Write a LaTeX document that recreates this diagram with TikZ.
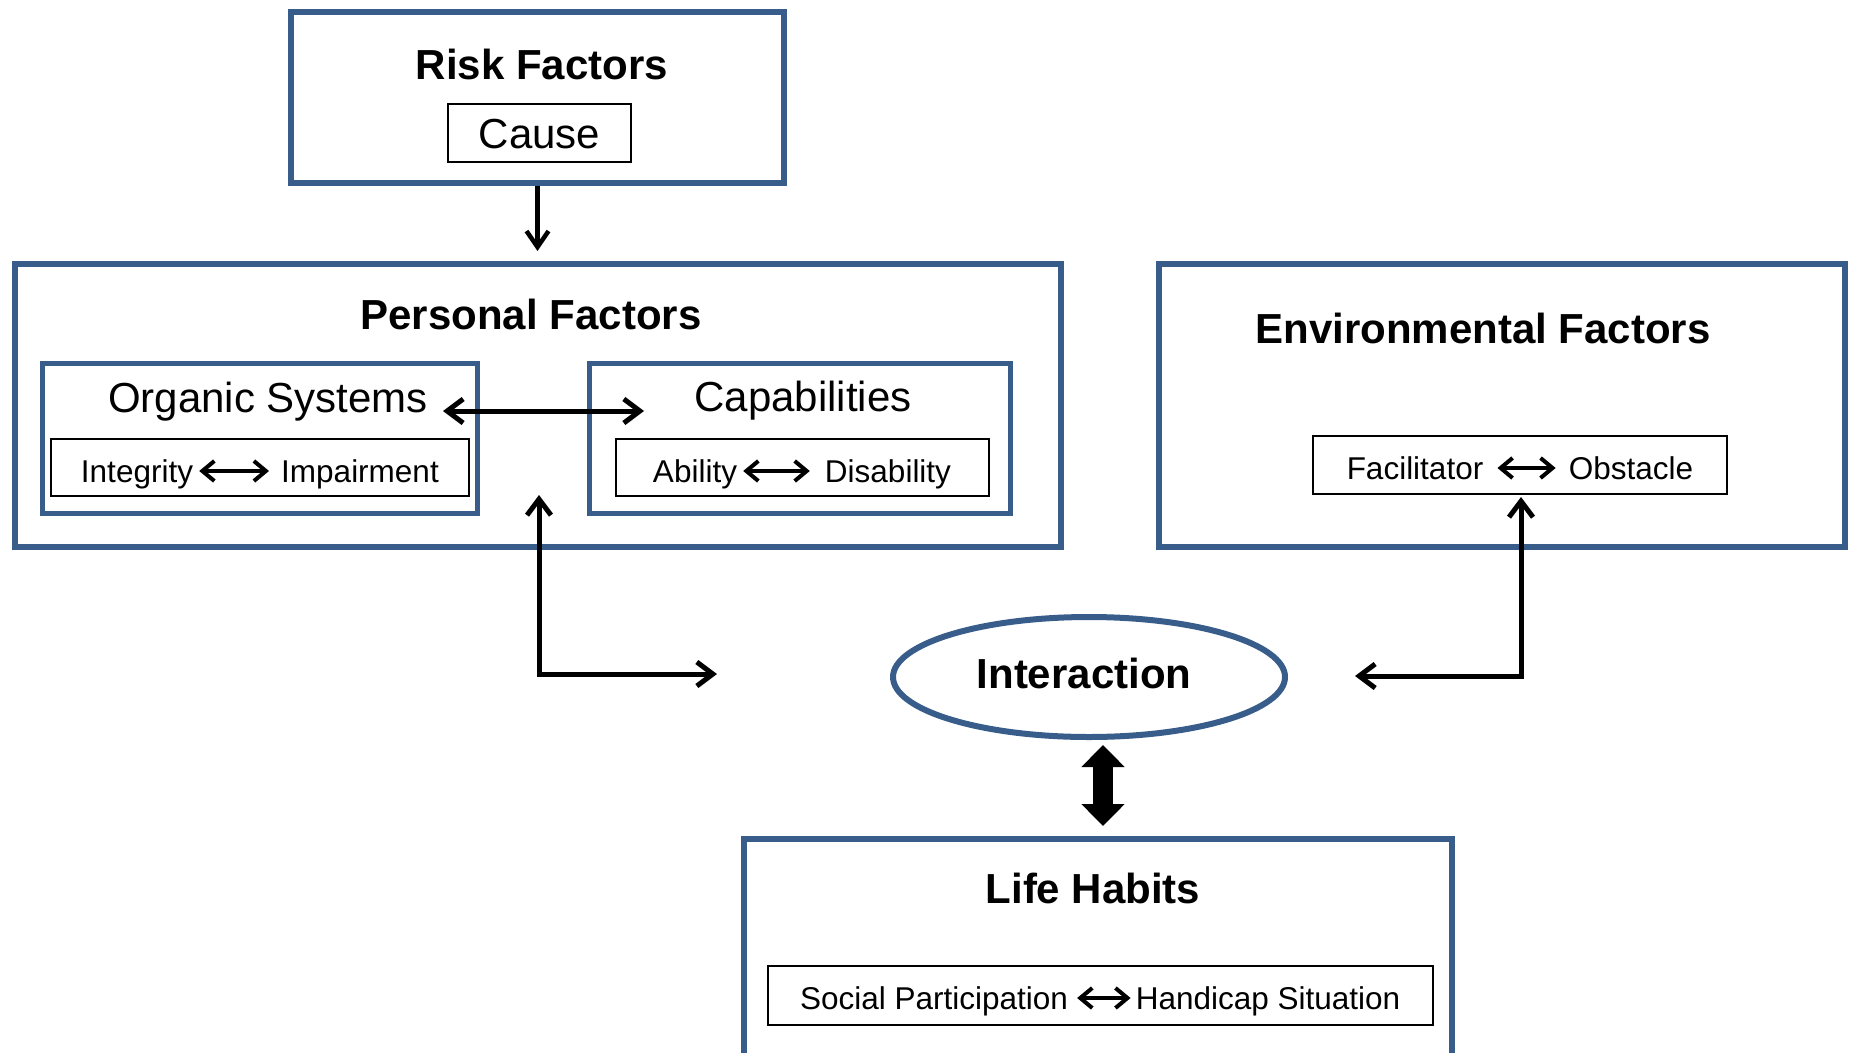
\documentclass[tikz,border=0pt]{standalone}
\usepackage{fontspec}
\setmainfont{Liberation Sans}
\usetikzlibrary{arrows.meta,shapes.geometric}
\definecolor{boxblue}{RGB}{56,93,138}
\begin{document}
\begin{tikzpicture}[x=1pt,y=-1pt,
  bbox/.style 2 args={draw=boxblue,line width=6pt,inner sep=0pt,minimum width=#1,minimum height=#2},
  ibox/.style 2 args={draw=boxblue,line width=5pt,inner sep=0pt,minimum width=#1,minimum height=#2},
  kbox/.style 2 args={draw=black,line width=2pt,inner sep=0pt,minimum width=#1,minimum height=#2},
  title/.style={font=\fontsize{42}{50}\selectfont\bfseries,inner sep=0pt,anchor=base},
  big/.style={font=\fontsize{42}{50}\selectfont,inner sep=0pt,anchor=base},
  word/.style={font=\fontsize{31.5}{38}\selectfont,inner sep=0pt,anchor=base},
  conn/.style={line width=5pt,{Straight Barb[length=16pt,width=24pt]}-{Straight Barb[length=16pt,width=24pt]}},
  oneway/.style={line width=4.5pt,-{Straight Barb[length=16pt,width=22pt]}},
  small/.style={line width=4pt,{Straight Barb[length=12pt,width=20pt]}-{Straight Barb[length=12pt,width=20pt]}},
  thick/.style={line width=20pt,{Triangle[length=22pt,width=42pt]}-{Triangle[length=22pt,width=42pt]}}
]
\fill[white] (0,0) rectangle (1851,1052);
\useasboundingbox (0,0) rectangle (1851,1052);

% Risk factors
\node[bbox={493}{171}] (risk) at (537.5,97.5) {};
\node[title] (risktitle) at (542,79) {Risk Factors};
\node[kbox={183}{58}] (causebox) at (539.5,133) {};
\node[big] (cause) at (539.5,148) {Cause};

% Personal factors
\node[bbox={1046}{283}] (personal) at (538,405.5) {};
\node[title] (pertitle) at (531,329) {Personal Factors};

\node[ibox={435}{150}] (organic) at (260,438.5) {};
\node[big] (orgtitle) at (268,412) {Organic Systems};
\node[kbox={418}{57}] (integbox) at (260,467.5) {};
\node[word] (integ) at (137,482) {Integrity};
\node[word] (impair) at (360,482) {Impairment};
\draw[small,shorten <=6pt,shorten >=12pt] ([yshift=11pt]integ.base east) -- ([yshift=11pt]impair.base west);

\node[ibox={421}{150}] (capab) at (800,438.5) {};
\node[big] (captitle) at (803,411) {Capabilities};
\node[kbox={373}{57}] (abilbox) at (802.5,467.5) {};
\node[word] (abil) at (695,482) {Ability};
\node[word] (disab) at (888,482) {Disability};
\draw[small,shorten <=6pt,shorten >=15pt] ([yshift=11pt]abil.base east) -- ([yshift=11pt]disab.base west);

\coordinate (oc1) at (443,411);
\coordinate (oc2) at (644,411);
\draw[conn] (oc1) -- (oc2);

% Environmental factors
\node[bbox={686}{283}] (env) at (1502,405.5) {};
\node[title] (envtitle) at (1483,343) {Environmental Factors};
\node[kbox={414}{58}] (facilbox) at (1520,465) {};
\node[word] (facil) at (1415,479) {Facilitator};
\node[word] (obst) at (1631,479) {Obstacle};
\draw[small,shorten <=14pt,shorten >=13pt] ([yshift=11pt]facil.base east) -- ([yshift=11pt]obst.base west);

% Interaction
\node[ellipse,draw=boxblue,line width=6pt,inner sep=0pt,minimum width=392pt,minimum height=120pt] (inter) at (1089,677) {};
\node[title] (intertitle) at (1084,688) {Interaction};

% Life habits
\node[bbox={708}{241}] (life) at (1098,959.5) {};
\node[title] (lifetitle) at (1093,903) {Life Habits};
\node[kbox={665}{59}] (socbox) at (1100.5,995.5) {};
\node[word] (soc) at (934,1009) {Social Participation};
\node[word] (hand) at (1268,1009) {Handicap Situation};
\draw[small,shorten <=9pt,shorten >=5pt] ([yshift=11pt]soc.base east) -- ([yshift=11pt]hand.base west);

% Connectors
\coordinate (rp) at (537.5,251);
\draw[oneway] (risk.south) -- (rp);

\coordinate (pfup) at (539,495);
\coordinate (pfright) at (717,674);
\draw[conn] (pfup) |- (pfright);

\coordinate (efup) at (1521,497);
\coordinate (efleft) at (1355,676);
\draw[conn] (efup) |- (efleft);

\coordinate (th1) at (1103,745);
\coordinate (th2) at (1103,826);
\draw[thick] (th1) -- (th2);
\end{tikzpicture}
\end{document}
